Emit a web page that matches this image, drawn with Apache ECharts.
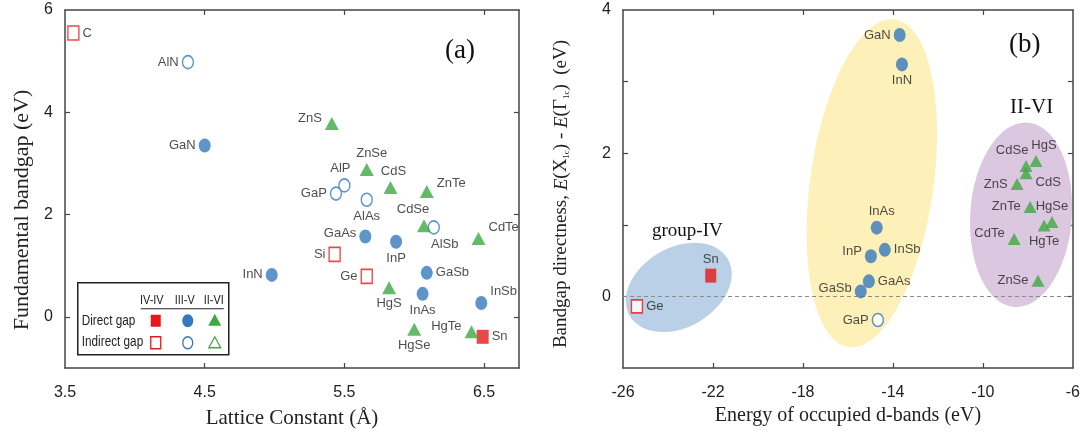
<!DOCTYPE html>
<html lang="en">
<head>
<meta charset="UTF-8">
<title>Bandgap vs lattice constant and d-band energy</title>
<script src="https://cdn.jsdelivr.net/npm/echarts@6/dist/echarts.min.js"></script>
<style>
    html, body { margin: 0; padding: 0; background: #fff; }
    #chart { width: 1083px; height: 441px; }
</style>
</head>
<body>
<div id="chart"></div>
<script>
    // ---- panel (a): lattice constant (Å) vs fundamental bandgap (eV)
    const ivNames = ['C', 'Si', 'Ge', 'Sn'];
    const ivLattice = [3.56, 5.43, 5.66, 6.49];
    const ivGap = [5.55, 1.22, 0.79, -0.39];
    const ivDirect = [false, false, false, true];

    const iiivNames = ['GaN', 'InN', 'GaAs', 'InP', 'GaSb', 'InAs', 'InSb', 'AlN', 'AlP', 'GaP', 'AlAs', 'AlSb'];
    const iiivLattice = [4.50, 4.98, 5.65, 5.87, 6.09, 6.06, 6.48, 4.38, 5.50, 5.44, 5.66, 6.14];
    const iiivGap = [3.35, 0.82, 1.57, 1.47, 0.86, 0.45, 0.27, 4.98, 2.57, 2.41, 2.29, 1.75];
    const iiivDirect = [true, true, true, true, true, true, true, false, false, false, false, false];

    const iiviNames = ['ZnS', 'ZnSe', 'CdS', 'ZnTe', 'CdSe', 'CdTe', 'HgS', 'HgSe', 'HgTe'];
    const iiviLattice = [5.41, 5.66, 5.83, 6.09, 6.07, 6.46, 5.82, 6.00, 6.41];
    const iiviGap = [3.78, 2.88, 2.53, 2.45, 1.78, 1.53, 0.57, -0.24, -0.29];
    const iiviDirect = [true, true, true, true, true, true, true, true, true];

    // ---- panel (b): d-band energy (eV) vs E(X1c) - E(Γ1c) (eV)
    const bIvNames = ['Ge', 'Sn'];
    const bIvEnergy = [-25.38, -22.1];
    const bIvDirectness = [-0.14, 0.29];
    const bIvDirect = [false, true];

    const bIiivNames = ['GaN', 'InN', 'InAs', 'InSb', 'InP', 'GaAs', 'GaSb', 'GaP'];
    const bIiivEnergy = [-13.7, -13.6, -14.72, -14.36, -14.98, -15.07, -15.43, -14.67];
    const bIiivDirectness = [3.65, 3.24, 0.96, 0.65, 0.56, 0.21, 0.07, -0.33];
    const bIiivDirect = [true, true, true, true, true, true, true, false];

    const bIiviNames = ['HgS', 'CdSe', 'CdS', 'ZnS', 'ZnTe', 'HgSe', 'HgTe', 'CdTe', 'ZnSe'];
    const bIiviEnergy = [-7.64, -8.08, -8.08, -8.48, -7.9, -6.93, -7.28, -8.61, -7.55];
    const bIiviDirectness = [1.89, 1.82, 1.72, 1.57, 1.25, 1.04, 0.99, 0.80, 0.22];
    const bIiviDirect = [true, true, true, true, true, true, true, true, true];

    // group outlines in panel (b): centre x, centre y, half-width, half-height (data units), tilt (deg)
    const groupNames = ['group-IV', 'III-V', 'II-VI'];
    const groupCx = [-23.52, -14.94, -8.3];
    const groupCy = [0.125, 1.58, 1.14];
    const groupRx = [2.52, 2.74, 2.26];
    const groupRy = [0.556, 2.31, 1.29];
    const groupTilt = [30, -8, -4];

    // ---- styles
    const RED = '#e5191c', BLUE = '#3479bd', GREEN = '#3fa943';
    const groupFill = ['#b9d0e6', '#fdf0b9', '#dcc7e1'];
    const SANS = 'Liberation Sans', SERIF = 'Liberation Serif';

    // label placement: [position, dx, dy]
    const placeA = {
        C: ['right', 0, 0], Si: ['left', 0, 0], Ge: ['left', 0, 0], Sn: ['right', 0, 0],
        GaN: ['left', 0, 0], InN: ['left', 0, 0], GaAs: ['left', 0, -3], InP: ['bottom', 0, 0],
        GaSb: ['right', 0, 0], InAs: ['bottom', 0, 0], InSb: ['right', 0, -12], AlN: ['left', 0, 0],
        AlP: ['top', -4, 0], GaP: ['left', 0, 0], AlAs: ['bottom', 0, 0], AlSb: ['bottom', 11, 0],
        ZnS: ['left', 0, -5], ZnSe: ['top', 5, 0], CdS: ['top', 3, 0], ZnTe: ['right', 0, -8],
        CdSe: ['top', -11, 0], CdTe: ['right', 0, -11], HgS: ['bottom', 0, 0], HgSe: ['bottom', 0, 0],
        HgTe: ['left', 0, -5]
    };
    const placeB = {
        Ge: ['right', 0, 0], Sn: ['top', 0, 0], GaN: ['left', 0, 0], InN: ['bottom', 0, 0],
        InAs: ['top', 5, 0], InSb: ['right', 0, 0], InP: ['left', 0, -5], GaAs: ['right', 0, 0],
        GaSb: ['left', 0, -3], GaP: ['left', 0, 0], HgS: ['top', 8, 0], CdSe: ['top', -14, 0],
        CdS: ['right', 0, 9], ZnS: ['left', 0, 0], ZnTe: ['left', 0, 0], HgSe: ['top', 0, 0],
        HgTe: ['bottom', 0, 0], CdTe: ['left', 0, -6], ZnSe: ['left', 0, 0]
    };

    function pointSeries(gridIdx, names, xs, ys, flags, wantDirect, symbol, size, color, place) {
        const data = [];
        names.forEach((n, i) => {
            if (flags[i] !== wantDirect) return;
            const p = place[n] || ['right', 0, 0];
            data.push({
                name: n,
                value: [xs[i], ys[i]],
                label: { position: p[0], offset: [p[1], p[2]] }
            });
        });
        return {
            type: 'scatter',
            xAxisIndex: gridIdx * 2,
            yAxisIndex: gridIdx * 2,
            symbol: symbol,
            symbolSize: size,
            z: 5,
            itemStyle: wantDirect
                ? { color: color }
                : { color: '#fff', borderColor: color, borderWidth: 1.5 },
            label: {
                show: true,
                formatter: '{b}',
                distance: 3,
                color: '#222',
                fontFamily: SANS,
                fontSize: 13
            },
            emphasis: { disabled: true },
            data: data
        };
    }

    const series = [];
    // group outlines behind the points (panel b)
    series.push({
        type: 'custom',
        xAxisIndex: 2,
        yAxisIndex: 2,
        z: 1,
        silent: true,
        data: groupNames.map((n, i) => [groupCx[i], groupCy[i], groupRx[i], groupRy[i], groupTilt[i], i]),
        renderItem: (params, api) => {
            const c = api.coord([api.value(0), api.value(1)]);
            const s = api.size([api.value(2), api.value(3)]);
            return {
                type: 'ellipse',
                x: c[0],
                y: c[1],
                rotation: api.value(4) * Math.PI / 180,
                shape: { cx: 0, cy: 0, rx: s[0], ry: s[1] },
                style: { fill: groupFill[api.value(5)] }
            };
        },
        markLine: {
            silent: true,
            symbol: 'none',
            label: { show: false },
            lineStyle: { color: '#8c8c8c', type: [4, 3], width: 1 },
            data: [{ yAxis: 0 }]
        }
    });

    // panel (a)
    series.push(pointSeries(0, ivNames, ivLattice, ivGap, ivDirect, true, 'rect', [12, 14], RED, placeA));
    series.push(pointSeries(0, ivNames, ivLattice, ivGap, ivDirect, false, 'rect', [11, 14], RED, placeA));
    series.push(pointSeries(0, iiivNames, iiivLattice, iiivGap, iiivDirect, true, 'circle', [12, 14], BLUE, placeA));
    series.push(pointSeries(0, iiivNames, iiivLattice, iiivGap, iiivDirect, false, 'circle', [11, 13], BLUE, placeA));
    series.push(pointSeries(0, iiviNames, iiviLattice, iiviGap, iiviDirect, true, 'triangle', [14, 13], GREEN, placeA));
    // panel (b)
    series.push(pointSeries(1, bIvNames, bIvEnergy, bIvDirectness, bIvDirect, true, 'rect', [11, 14], RED, placeB));
    series.push(pointSeries(1, bIvNames, bIvEnergy, bIvDirectness, bIvDirect, false, 'rect', [11, 13], RED, placeB));
    series.push(pointSeries(1, bIiivNames, bIiivEnergy, bIiivDirectness, bIiivDirect, true, 'circle', [12, 14], BLUE, placeB));
    series.push(pointSeries(1, bIiivNames, bIiivEnergy, bIiivDirectness, bIiivDirect, false, 'circle', [11, 13], BLUE, placeB));
    series.push(pointSeries(1, bIiviNames, bIiviEnergy, bIiviDirectness, bIiviDirect, true, 'triangle', [13, 12], GREEN, placeB));

    const axisLine = { show: true, onZero: false, lineStyle: { color: '#444', width: 1.5 } };
    const tickLabel = { color: '#222', fontFamily: SANS, fontSize: 16 };

    function mirrorAxis(gridIdx, position, min, max, ticks) {
        return {
            type: 'value', gridIndex: gridIdx, position: position, min: min, max: max,
            axisLine: axisLine,
            axisTick: { show: true, inside: true, length: 5, customValues: ticks, lineStyle: { color: '#444', width: 1.2 } },
            axisLabel: { show: false },
            splitLine: { show: false }
        };
    }

    // narrow text used inside the key box
    function keyText(x, y, text, align, size) {
        return {
            type: 'text', x: x, y: y, scaleX: 0.84,
            style: { text: text, font: size + 'px "Liberation Sans"', fill: '#222', align: align, verticalAlign: 'middle' }
        };
    }

    const option = {
        animation: false,
        backgroundColor: '#fff',
        grid: [
            { left: 65, top: 10, width: 454, height: 358 },
            { left: 623, top: 10, width: 452, height: 358 }
        ],
        xAxis: [
            {
                type: 'value', gridIndex: 0, position: 'bottom', min: 3.5, max: 6.75,
                axisLine: axisLine,
                axisTick: { show: true, inside: true, length: 5, customValues: [4.5, 5.5, 6.5], lineStyle: { color: '#444', width: 1.2 } },
                axisLabel: Object.assign({ customValues: [3.5, 4.5, 5.5, 6.5], margin: 17 }, tickLabel),
                splitLine: { show: false },
                name: 'Lattice Constant (Å)', nameLocation: 'middle', nameGap: 40,
                nameTextStyle: { fontFamily: SERIF, fontSize: 21, color: '#222' }
            },
            mirrorAxis(0, 'top', 3.5, 6.75, [4.5, 5.5, 6.5]),
            {
                type: 'value', gridIndex: 1, position: 'bottom', min: -26, max: -6,
                axisLine: axisLine,
                axisTick: { show: true, inside: true, length: 5, customValues: [-22, -18, -14, -10], lineStyle: { color: '#444', width: 1.2 } },
                axisLabel: Object.assign({ customValues: [-26, -22, -18, -14, -10, -6], margin: 17 }, tickLabel),
                splitLine: { show: false },
                name: 'Energy of occupied d-bands (eV)', nameLocation: 'middle', nameGap: 38,
                nameTextStyle: { fontFamily: SERIF, fontSize: 20, color: '#222' }
            },
            mirrorAxis(1, 'top', -26, -6, [-22, -18, -14, -10])
        ],
        yAxis: [
            {
                type: 'value', gridIndex: 0, position: 'left', min: -1, max: 6,
                axisLine: axisLine,
                axisTick: { show: true, inside: true, length: 5, customValues: [0, 2, 4], lineStyle: { color: '#444', width: 1.2 } },
                axisLabel: Object.assign({ customValues: [0, 2, 4, 6], margin: 12 }, tickLabel),
                splitLine: { show: false },
                name: 'Fundamental bandgap (eV)', nameLocation: 'middle', nameGap: 32,
                nameTextStyle: { fontFamily: SERIF, fontSize: 22, color: '#222', padding: [0, 42, 0, 0] }
            },
            mirrorAxis(0, 'right', -1, 6, [0, 2, 4]),
            {
                type: 'value', gridIndex: 1, position: 'left', min: -1, max: 4,
                axisLine: axisLine,
                axisTick: { show: true, inside: true, length: 5, customValues: [0, 1, 2, 3], lineStyle: { color: '#444', width: 1.2 } },
                axisLabel: Object.assign({ customValues: [0, 2, 4], margin: 12 }, tickLabel),
                splitLine: { show: false },
                name: '{t|Bandgap directness, }{i|E}{t|(X}{s|1c}{t|) - }{i|E}{t|(Γ}{s|1c}{t|)  (eV)}',
                nameLocation: 'middle', nameGap: 52,
                nameTextStyle: {
                    fontFamily: SERIF, fontSize: 19, color: '#222', padding: [0, 10, 0, 0],
                    rich: {
                        t: { fontFamily: SERIF, fontSize: 19, color: '#222' },
                        i: { fontFamily: SERIF, fontSize: 19, fontStyle: 'italic', color: '#222' },
                        s: { fontFamily: SERIF, fontSize: 9, color: '#222', verticalAlign: 'bottom' }
                    }
                }
            },
            mirrorAxis(1, 'right', -1, 4, [0, 1, 2, 3])
        ],
        series: series,
        graphic: [
            { type: 'text', left: 445, top: 37, style: { text: '(a)', font: '27px "Liberation Serif"', fill: '#111' } },
            { type: 'text', left: 1009, top: 31, style: { text: '(b)', font: '27px "Liberation Serif"', fill: '#111' } },
            { type: 'text', left: 652, top: 222, style: { text: 'group-IV', font: '19px "Liberation Serif"', fill: '#111' } },
            { type: 'text', left: 864, top: 138, style: { text: 'III-V', font: '21px "Liberation Serif"', fill: '#111' } },
            { type: 'text', left: 1010, top: 97, style: { text: 'II-VI', font: '21px "Liberation Serif"', fill: '#111' } },
            // key box in panel (a)
            {
                type: 'group', left: 77, top: 282,
                children: [
                    { type: 'rect', shape: { x: 0, y: 0, width: 151, height: 72 }, style: { fill: '#fff', stroke: '#222', lineWidth: 1.5 } },
                    keyText(74, 18, 'IV-IV', 'center', 13),
                    keyText(107, 18, 'III-V', 'center', 13),
                    keyText(136, 18, 'II-VI', 'center', 13),
                    { type: 'line', shape: { x1: 63, y1: 26, x2: 146, y2: 26 }, style: { stroke: '#222', lineWidth: 1.2 } },
                    keyText(4, 38, 'Direct gap', 'left', 14),
                    keyText(4, 59, 'Indirect gap', 'left', 14),
                    { type: 'rect', shape: { x: 73, y: 32, width: 10, height: 12 }, style: { fill: RED } },
                    { type: 'ellipse', shape: { cx: 110, cy: 38, rx: 5.5, ry: 6.5 }, style: { fill: BLUE } },
                    { type: 'polygon', shape: { points: [[137, 31], [143.5, 43], [130.5, 43]] }, style: { fill: GREEN } },
                    { type: 'rect', shape: { x: 73, y: 54, width: 10, height: 12 }, style: { fill: '#fff', stroke: RED, lineWidth: 1.3 } },
                    { type: 'ellipse', shape: { cx: 110, cy: 60, rx: 5, ry: 6 }, style: { fill: '#fff', stroke: BLUE, lineWidth: 1.3 } },
                    { type: 'polygon', shape: { points: [[137, 54], [143, 65], [131, 65]] }, style: { fill: '#fff', stroke: GREEN, lineWidth: 1.3 } }
                ]
            }
        ]
    };

    const chart = echarts.init(document.getElementById('chart'));
    chart.setOption(option);
    window.onresize = chart.resize;
</script>
</body>
</html>
